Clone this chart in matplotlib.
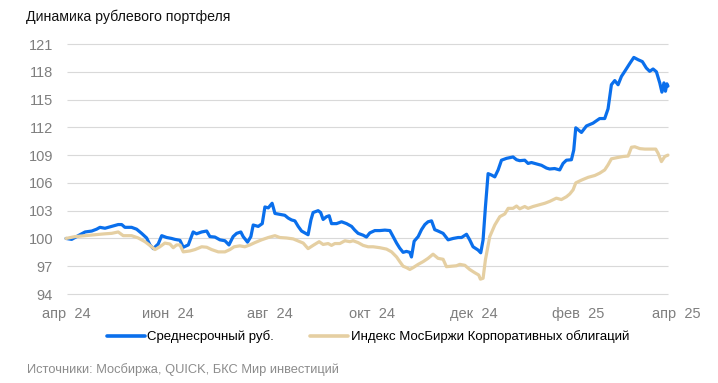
import matplotlib
matplotlib.use("Agg")
import matplotlib.pyplot as plt
import matplotlib.dates as mdates
import numpy as np
import pandas as pd

title = "Динамика рублевого портфеля"
source = "Источники: Мосбиржа, QUICK, БКС Мир инвестиций"
series_names = ["Среднесрочный руб.", "Индекс МосБиржи Корпоративных облигаций"]
start_date = "2024-04-01"

# days since 2024-04-01 and index values
blue_days = [0, 3.4, 7.3, 11.4, 15.4, 18.3, 20.3, 23.3, 27.3, 31.2, 33.3, 35.2, 39.2, 42.2,
             45.2, 48.2, 50.2, 52.2, 55.1, 57.2, 60.2, 63.1, 65.1, 68.1, 70.1, 73.1, 76.0,
             78.0, 81.1, 84.1, 86.0, 89.0, 92.0, 95.0, 97.4, 99.9, 102.0, 104.5, 105.9, 108.5,
             110.5, 111.9, 114.9, 117.3, 118.9, 120.9, 123.2, 124.9, 127.8, 130.8, 132.8,
             134.8, 136.8, 138.8, 140.8, 143.8, 144.7, 146.4, 147.7, 150.7, 152.2, 153.7,
             155.7, 157.3, 158.7, 161.7, 164.7, 167.7, 170.7, 172.6, 174.6, 177.6, 179.6,
             181.6, 184.6, 187.6, 190.6, 193.6, 195.5, 197.6, 199.5, 201.5, 203.5, 205.5,
             206.5, 208.1, 210.5, 212.5, 214.5, 216.4, 218.5, 220.4, 222.4, 225.4, 228.4,
             231.4, 234.4, 236.4, 239.4, 241.3, 243.3, 246.3, 247.9, 249.3, 250.7, 252.3,
             254.3, 256.3, 258.3, 260.3, 263.3, 267.2, 269.3, 271.2, 274.2, 276.2, 278.2,
             281.2, 284.2, 287.2, 289.1, 292.1, 295.1, 297.1, 299.1, 302.1, 303.5, 304.7,
             308.1, 311.1, 315.0, 319.0, 322.0, 324.0, 326.0, 328.0, 330.0, 332.0, 334.0,
             337.0, 339.4, 342.0, 344.5, 346.9, 348.9, 350.9, 352.9, 354.9, 356.2, 357.4,
             358.3, 359.2, 359.8]
blue_vals = [100.0, 99.9, 100.3, 100.7, 100.8, 101.0, 101.2, 101.1, 101.3, 101.5, 101.5, 101.2,
             101.2, 101.0, 100.55, 100.05, 99.3, 98.9, 99.4, 100.3, 100.1, 100.0, 99.9, 99.8,
             99.05, 99.3, 100.7, 100.5, 100.7, 100.8, 100.2, 100.15, 99.85, 99.75, 99.3, 100.2,
             100.55, 100.7, 100.2, 99.6, 100.2, 101.45, 101.3, 101.6, 103.4, 103.3, 103.8,
             102.7, 102.6, 102.5, 102.2, 102.0, 101.9, 101.3, 100.8, 100.5, 100.4, 102.0,
             102.8, 103.0, 102.8, 102.05, 102.35, 102.45, 101.6, 101.6, 101.8, 101.6, 101.3,
             100.9, 100.55, 100.35, 100.15, 100.6, 100.85, 100.85, 100.9, 100.85, 100.2, 99.5,
             98.95, 98.5, 98.6, 98.5, 98.0, 99.7, 100.2, 100.95, 101.5, 101.8, 101.9, 100.95,
             100.8, 100.55, 99.85, 100.0, 100.1, 100.1, 100.45, 99.85, 99.1, 98.75, 98.45,
             99.85, 103.4, 107.0, 106.85, 106.65, 107.4, 108.45, 108.65, 108.8, 108.5, 108.4,
             108.45, 108.1, 108.2, 108.05, 107.9, 107.6, 107.5, 107.55, 107.4, 108.1, 108.45,
             108.5, 109.55, 111.95, 111.45, 112.15, 112.45, 112.95, 112.95, 114.0, 116.6,
             117.05, 116.6, 117.5, 118.05, 118.9, 119.55, 119.3, 119.1, 118.4, 118.05, 118.3,
             118.0, 116.8, 115.8, 116.8, 115.9, 116.7, 116.45]

beige_days = [0, 5.4, 11.4, 17.3, 23.3, 27.3, 31.2, 34.2, 39.2, 43.2, 47.2, 51.2, 53.2, 56.1,
              59.1, 62.1, 64.1, 66.1, 68.1, 70.1, 74.1, 77.1, 81.1, 84.1, 87.0, 91.0, 95.0,
              98.0, 100.5, 103.9, 106.9, 109.9, 112.9, 116.9, 120.9, 124.9, 127.8, 131.8,
              135.8, 139.8, 141.8, 144.7, 147.7, 151.3, 153.7, 156.7, 158.7, 160.7, 163.7,
              166.7, 169.7, 171.6, 174.6, 177.6, 180.6, 183.6, 187.6, 191.6, 194.6, 197.6,
              199.5, 201.5, 203.5, 205.5, 207.5, 210.5, 213.5, 216.4, 219.4, 222.4, 225.4,
              227.4, 230.4, 233.4, 235.4, 238.4, 241.3, 244.3, 246.7, 247.7, 249.3, 250.7,
              253.3, 256.3, 259.3, 262.3, 264.3, 267.2, 269.3, 271.2, 274.2, 276.2, 279.2,
              282.2, 286.2, 289.1, 293.1, 296.1, 299.1, 301.1, 303.1, 304.7, 308.1, 312.1,
              316.1, 319.0, 322.0, 324.0, 326.0, 330.0, 333.0, 336.0, 338.0, 340.0, 343.0,
              346.0, 349.0, 352.5, 353.9, 355.9, 357.9, 359.8]
beige_vals = [100.0, 100.2, 100.3, 100.4, 100.5, 100.55, 100.7, 100.3, 100.3, 100.05, 99.65,
              99.1, 98.8, 99.1, 99.5, 99.4, 99.0, 99.3, 99.3, 98.55, 98.65, 98.8, 99.1, 99.05,
              98.8, 98.55, 98.55, 98.8, 99.1, 99.2, 99.1, 99.3, 99.55, 99.85, 100.1, 100.3,
              100.1, 100.05, 99.95, 99.65, 99.5, 98.9, 99.25, 99.65, 99.35, 99.45, 99.25, 99.45,
              99.45, 99.75, 99.65, 99.75, 99.55, 99.25, 99.1, 99.1, 99.0, 98.85, 98.55, 98.0,
              97.5, 97.0, 96.85, 96.65, 96.85, 97.2, 97.5, 97.85, 98.3, 97.85, 97.75, 96.95,
              97.0, 97.05, 97.2, 97.1, 96.65, 96.3, 96.05, 95.6, 95.7, 97.7, 100.2, 101.45,
              102.35, 102.65, 103.25, 103.25, 103.5, 103.2, 103.45, 103.25, 103.45, 103.6,
              103.8, 104.0, 104.35, 104.2, 104.5, 104.8, 105.25, 106.0, 106.3, 106.6, 106.8,
              107.05, 107.4, 107.95, 108.6, 108.75, 108.85, 108.9, 109.85, 109.9, 109.7,
              109.65, 109.65, 109.65, 109.2, 108.3, 108.85, 109.0]

y_ticks = [94, 97, 100, 103, 106, 109, 112, 115, 118, 121]
x_tick_dates = ["2024-04-01", "2024-06-01", "2024-08-01", "2024-10-01",
                "2024-12-01", "2025-02-01", "2025-04-01"]
x_tick_labels = ["апр  24", "июн  24", "авг  24", "окт  24", "дек  24", "фев  25", "апр  25"]

BLUE = "#0A6FEC"
BEIGE = "#E5CFA2"
GRID = "#D9D9D9"
TICK = "#7F7F7F"

plt.rcParams["font.family"] = ["Liberation Sans", "DejaVu Sans"]

W, H = 718, 383
fig = plt.figure(figsize=(W / 100, H / 100), dpi=100)
fig.patch.set_facecolor("white")

px_day = 1.673
ax_l, ax_r, ax_b, ax_t = 60, 690, 300, 40
ax = fig.add_axes([ax_l / W, 1 - ax_b / H, (ax_r - ax_l) / W, (ax_b - ax_t) / H])

t0 = pd.Timestamp(start_date)
def to_num(days):
    return mdates.date2num(t0 + pd.to_timedelta(np.asarray(days), unit="D"))

x_left = -(66 - ax_l) / px_day
x_right = (ax_r - 66) / px_day
ax.set_xlim(to_num([x_left])[0], to_num([x_right])[0])
ppu = 250 / 27.0
ax.set_ylim(94 - (ax_b - 294) / ppu, 121 + (44 - ax_t) / ppu)

ax.hlines(y_ticks, to_num([0.5])[0], to_num([blue_days[-1]])[0], colors=GRID, lw=0.8, zorder=1)

ax.plot(to_num(blue_days), blue_vals, color=BLUE, lw=2.3, solid_joinstyle="round",
        solid_capstyle="round", zorder=3, label=series_names[0])
ax.plot(to_num(beige_days), beige_vals, color=BEIGE, lw=2.3, solid_joinstyle="round",
        solid_capstyle="round", zorder=4, label=series_names[1])

for s in ax.spines.values():
    s.set_visible(False)
ax.set_yticks(y_ticks)
ax.set_yticklabels([str(v) for v in y_ticks])
ax.set_xticks(mdates.date2num(pd.to_datetime(x_tick_dates)))
ax.set_xticklabels(x_tick_labels)
ax.tick_params(axis="y", length=0, pad=5, labelsize=10.5, labelcolor=TICK)
ax.tick_params(axis="x", length=0, pad=5, labelsize=10.5, labelcolor=TICK)
ax.set_facecolor("none")

fig.text(26 / W, 1 - 21 / H, title, fontsize=10.2, color="#111111", va="baseline", ha="left")

leg = fig.legend(loc="center left", bbox_to_anchor=(107 / W, 1 - 337 / H), ncol=2,
                 frameon=False, fontsize=9.5, handlelength=2.85, handletextpad=0.2,
                 columnspacing=2.75, borderaxespad=0, borderpad=0)
for line in leg.get_lines():
    line.set_linewidth(2.6)

fig.text(27 / W, 1 - 370 / H, source, fontsize=9.3, color="#8C8C8C", va="center", ha="left")

fig.savefig("out.png", dpi=100, facecolor="white")
